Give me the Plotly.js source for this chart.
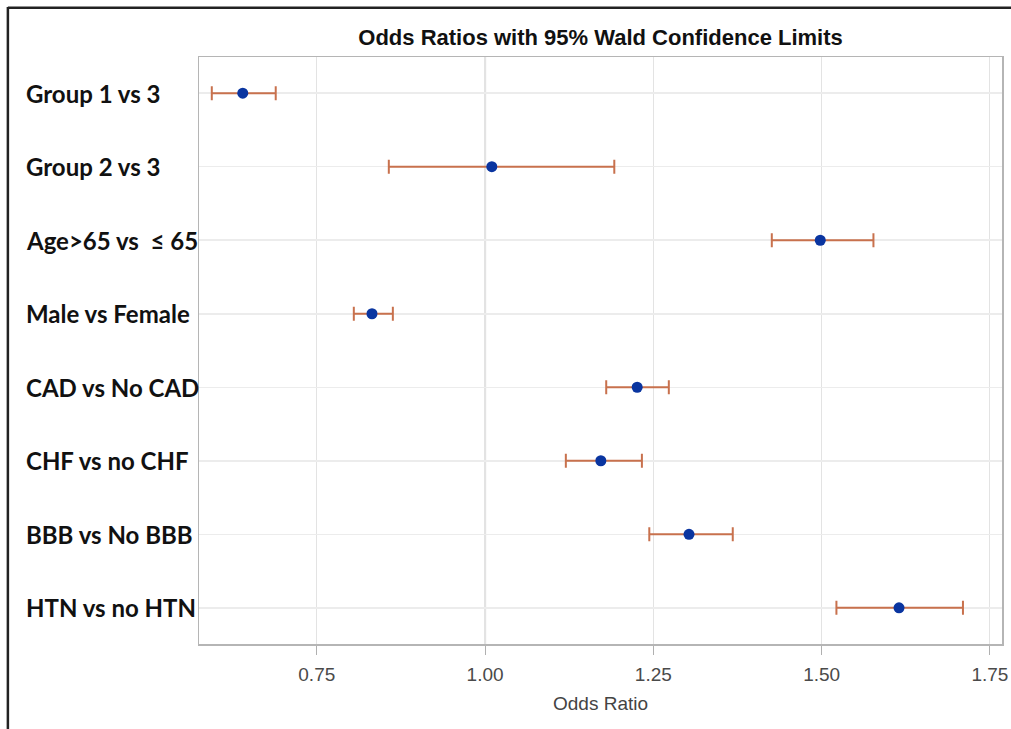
<!DOCTYPE html>
<html>
<head>
<meta charset="utf-8">
<script src="https://cdn.plot.ly/plotly-3.0.1.min.js"></script>
<style>
  html, body { margin: 0; padding: 0; background: #fff; }
  #chart { width: 1011px; height: 729px; }
</style>
</head>
<body>
<div id="chart"></div>
<script>
const categories = ["Group 1 vs 3", "Group 2 vs 3", "Age>65 vs  \u2264 65", "Male vs Female",
  "CAD vs No CAD", "CHF vs no CHF", "BBB vs No BBB", "HTN vs no HTN"];
const oddsRatio = [0.640, 1.010, 1.498, 0.832, 1.226, 1.172, 1.303, 1.615];
const lowerCL   = [0.594, 0.857, 1.426, 0.805, 1.180, 1.120, 1.244, 1.522];
const upperCL   = [0.689, 1.192, 1.577, 0.863, 1.273, 1.233, 1.368, 1.710];
const xTicks    = [0.75, 1.00, 1.25, 1.50, 1.75];
const xTickText = ["0.75", "1.00", "1.25", "1.50", "1.75"];

const trace = {
  type: "scatter",
  mode: "markers",
  x: oddsRatio,
  y: categories,
  marker: { color: "#0a35a0", size: 11 },
  error_x: {
    type: "data",
    symmetric: false,
    array: oddsRatio.map((v, i) => upperCL[i] - v),
    arrayminus: oddsRatio.map((v, i) => v - lowerCL[i]),
    color: "#c8714d",
    thickness: 2,
    width: 7
  },
  hoverinfo: "x+y",
  showlegend: false
};

const annotations = categories.map(c => ({
  xref: "paper", yref: "y", x: -0.2175, y: c, xanchor: "left", yanchor: "middle",
  text: c, showarrow: false,
  font: { family: "Lato, sans-serif", size: 24, color: "#111", weight: "bold" }
}));

const layout = {
  width: 1011, height: 729,
  margin: { l: 199, r: 9, t: 57, b: 85 },
  paper_bgcolor: "#fff", plot_bgcolor: "#fff",
  title: {
    text: "<b>Odds Ratios with 95% Wald Confidence Limits</b>",
    x: 0.594, xanchor: "center", y: 0.949, yanchor: "middle",
    font: { family: "Liberation Sans, Arial, sans-serif", size: 22, color: "#111" }
  },
  xaxis: {
    range: [0.575, 1.768],
    tickvals: xTicks, ticktext: xTickText,
    showgrid: true, gridcolor: "#e3e3e3", gridwidth: 1.2,
    zeroline: false,
    showline: true, linecolor: "#b5b5b5", linewidth: 1.5, mirror: true,
    ticks: "outside", ticklen: 9, tickcolor: "#b0b0b0",
    ticklabelstandoff: 4,
    tickfont: { family: "Liberation Sans, Arial, sans-serif", size: 19, color: "#4a4a4a" },
    title: { text: "Odds Ratio", standoff: 12,
      font: { family: "Liberation Sans, Arial, sans-serif", size: 19, color: "#444" } }
  },
  yaxis: {
    type: "category",
    autorange: "reversed",
    range: [7.5, -0.5],
    showticklabels: false,
    showgrid: true, gridcolor: "#ececec", gridwidth: 1.5,
    showline: true, linecolor: "#b5b5b5", linewidth: 1.5, mirror: true,
    ticks: ""
  },
  shapes: [
    { type: "line", xref: "x", yref: "paper", x0: 1, x1: 1, y0: 0, y1: 1,
      line: { color: "#a8a8a8", width: 2 }, layer: "below" },
    { type: "line", xref: "paper", yref: "paper", x0: -0.238, x1: -0.238, y0: 1.085, y1: -0.2,
      line: { color: "#222", width: 2.5 } },
    { type: "line", xref: "paper", yref: "paper", x0: -0.238, x1: 1.02, y0: 1.084, y1: 1.084,
      line: { color: "#222", width: 2.5 } }
  ],
  annotations: annotations
};

Plotly.newPlot("chart", [trace], layout, { displayModeBar: false, staticPlot: true });
</script>
</body>
</html>
